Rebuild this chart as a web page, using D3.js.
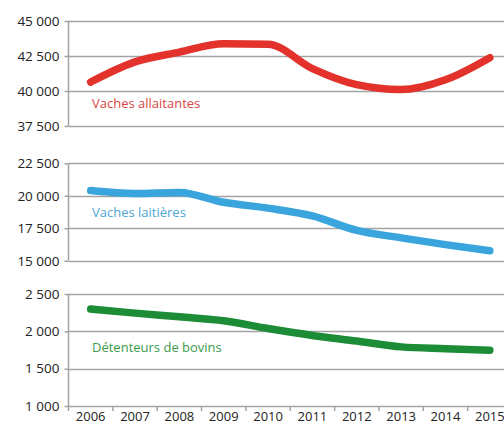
<!DOCTYPE html>
<html>
<head>
<meta charset="utf-8">
<script src="https://cdn.jsdelivr.net/npm/d3@7"></script>
<style>
  html, body { margin: 0; padding: 0; background: #fff; overflow: hidden; }
  svg { display: block; }
</style>
</head>
<body>
<svg id="chart" width="504" height="426"></svg>
<script>
const years = ["2006","2007","2008","2009","2010","2011","2012","2013","2014","2015"];

const vachesAllaitantes = [40640, 42080, 42780, 43380, 43340, 41600, 40450, 40100, 40800, 42380];
const vachesLaitieres   = [20400, 20180, 20260, 19500, 19050, 18450, 17330, 16760, 16240, 15770];
const detenteurs        = [2298, 2244, 2194, 2142, 2038, 1945, 1870, 1792, 1768, 1748];

const ticksAllaitantes = [37500, 40000, 42500, 45000];
const ticksLaitieres   = [15000, 17500, 20000, 22500];
const ticksDetenteurs  = [1000, 1500, 2000, 2500];

const labels = ["Vaches allaitantes", "Vaches laitières", "Détenteurs de bovins"];

const svg = d3.select("#chart");
const font = "'Open Sans', 'DejaVu Sans', sans-serif";

const x = d3.scaleBand().domain(years).range([68.5, 512]).paddingInner(0).paddingOuter(0);
const cx = d => x(d) + x.bandwidth() / 2;

const fmt = v => d3.format(",")(v).replace(/,/g, " ");

const panels = [
  { data: vachesAllaitantes, ticks: ticksAllaitantes, range: [126, 21], color: "#e2322b", labelColor: "#d8463f", label: labels[0], ly: 108 },
  { data: vachesLaitieres, ticks: ticksLaitieres, range: [260.7, 163.3], color: "#3aa5dd", labelColor: "#4da6d2", label: labels[1], ly: 217 },
  { data: detenteurs, ticks: ticksDetenteurs, range: [406, 294], color: "#1d8c36", labelColor: "#3a9c4c", label: labels[2], ly: 352 }
];

panels.forEach((p, i) => {
  const y = d3.scaleLinear().domain([p.ticks[0], p.ticks[p.ticks.length - 1]]).range(p.range);
  const g = svg.append("g");

  // gridlines
  g.selectAll("line.grid").data(p.ticks).join("line")
    .attr("x1", 68.5).attr("x2", 504)
    .attr("y1", d => Math.round(y(d)) + 0.5).attr("y2", d => Math.round(y(d)) + 0.5)
    .attr("stroke", "#a3a3a3").attr("stroke-width", 1.5);

  // y axis
  const ax = d3.axisLeft(y).tickValues(p.ticks).tickFormat(fmt).tickSize(4).tickPadding(5);
  const ag = g.append("g").attr("transform", "translate(68.5,0)").call(ax);
  ag.select(".domain").attr("stroke", "#a3a3a3").attr("stroke-width", 1.5).attr("d", `M0,${p.range[1]}V${p.range[0]}`);
  ag.selectAll(".tick line").attr("stroke", "#a3a3a3").attr("stroke-width", 1.5);
  ag.selectAll(".tick text").attr("font-family", font).attr("font-size", 13.5).attr("fill", "#222");

  // line
  const line = d3.line().x((d, j) => cx(years[j])).y(d => y(d)).curve(d3.curveMonotoneX);
  g.append("path").datum(p.data).attr("d", line)
    .attr("fill", "none").attr("stroke", p.color).attr("stroke-width", 7.5)
    .attr("stroke-linecap", "round").attr("stroke-linejoin", "round");

  // label
  g.append("text").attr("x", 92).attr("y", p.ly).text(p.label)
    .attr("font-family", font).attr("font-size", 13).attr("fill", p.labelColor);

  if (i === 2) {
    const xa = d3.axisBottom(x).tickSize(0).tickPadding(5);
    const xg = g.append("g").attr("transform", "translate(0,406.5)").call(xa);
    xg.select(".domain").remove();
    xg.selectAll(".tick text").attr("font-family", font).attr("font-size", 13).attr("fill", "#222");
    // boundary tick marks
    const bounds = years.map(d => x(d)).concat([x.range()[1]]);
    g.selectAll("line.xt").data(bounds).join("line")
      .attr("x1", d => d).attr("x2", d => d).attr("y1", 406.5).attr("y2", 411)
      .attr("stroke", "#a3a3a3").attr("stroke-width", 1.5);
  }
});
</script>
</body>
</html>
